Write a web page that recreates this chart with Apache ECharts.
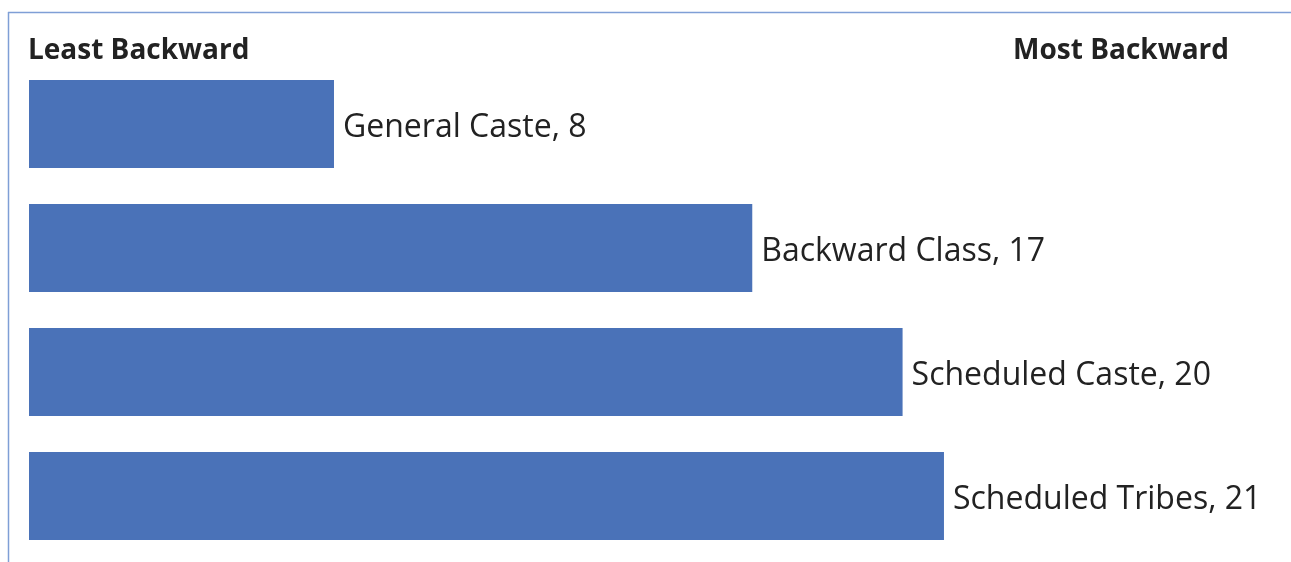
<!DOCTYPE html>
<html>
<head>
<meta charset="utf-8">
<script src="https://cdn.jsdelivr.net/npm/echarts@6/dist/echarts.min.js"></script>
<style>html,body{margin:0;padding:0;background:#fff}#c{width:1291px;height:562px}</style>
</head>
<body>
<div id="c"></div>
<script>
var categories = ['General Caste', 'Backward Class', 'Scheduled Caste', 'Scheduled Tribes'];
var labelValues = [8, 17, 20, 21];
var barValues = [7.0, 16.6, 20.05, 21];
var leftHeader = 'Least Backward';
var rightHeader = 'Most Backward';

var chart = echarts.init(document.getElementById('c'));
chart.setOption({
  animation: false,
  title: [
    {text: leftHeader, left: 23, top: 32, textStyle: {fontFamily: 'Open Sans', fontWeight: 'bold', fontSize: 28, color: '#222'}},
    {text: rightHeader, right: 57, top: 32, textStyle: {fontFamily: 'Open Sans', fontWeight: 'bold', fontSize: 28, color: '#222'}}
  ],
  graphic: [
    {type: 'line', shape: {x1: 8, y1: 12.5, x2: 1291, y2: 12.5}, style: {stroke: '#7f9fd6', lineWidth: 1.5}},
    {type: 'line', shape: {x1: 8.5, y1: 12, x2: 8.5, y2: 562}, style: {stroke: '#7f9fd6', lineWidth: 1.5}}
  ],
  grid: {left: 29, width: 1089.25, top: 62, height: 496},
  xAxis: {type: 'value', min: 0, max: 25, show: false},
  yAxis: {type: 'category', data: categories, inverse: true, show: false},
  series: [{
    type: 'bar',
    data: barValues,
    barCategoryGap: '29%',
    itemStyle: {color: '#4a72b8'},
    label: {
      show: true,
      position: 'right',
      distance: 9,
      fontFamily: 'Open Sans',
      fontSize: 32,
      color: '#222',
      offset: [0, 4],
      formatter: function (p) { return categories[p.dataIndex] + ', ' + labelValues[p.dataIndex]; }
    }
  }]
});
</script>
</body>
</html>
